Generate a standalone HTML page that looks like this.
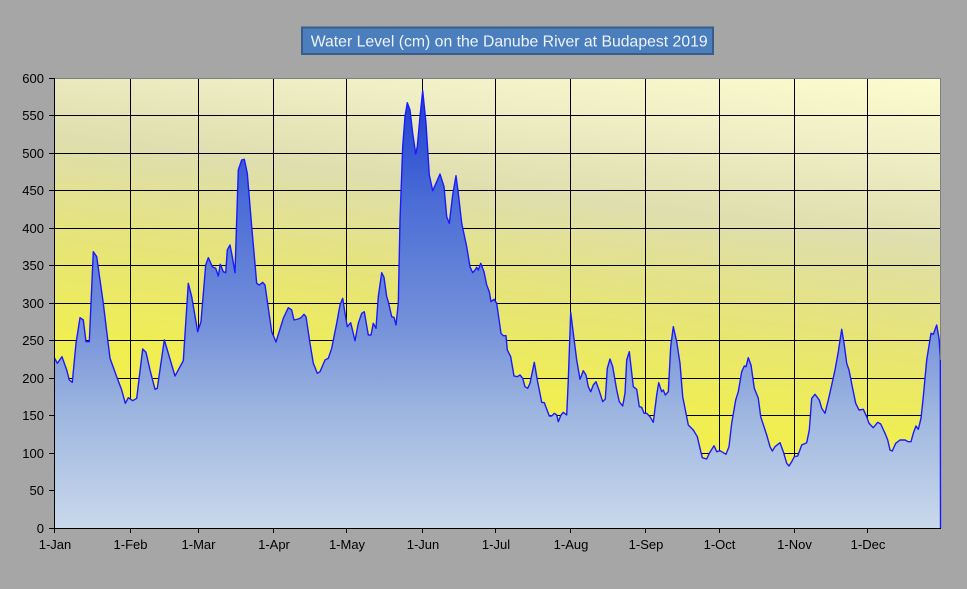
<!DOCTYPE html>
<html>
<head>
<meta charset="utf-8">
<style>
html,body{margin:0;padding:0;background:#a6a6a6;}
svg{display:block;}
text{font-family:"Liberation Sans",Arial,sans-serif;}
</style>
</head>
<body>
<svg width="967" height="589" viewBox="0 0 967 589" xmlns="http://www.w3.org/2000/svg">
<defs>
<linearGradient id="bg" gradientUnits="userSpaceOnUse" x1="760" y1="40" x2="700" y2="540">
<stop offset="0" stop-color="#ffffd2"/>
<stop offset="0.2" stop-color="#eeedc4"/>
<stop offset="0.36" stop-color="#dfdeae"/>
<stop offset="0.55" stop-color="#e6e47a"/>
<stop offset="0.75" stop-color="#f0ee52"/>
<stop offset="1" stop-color="#f4f040"/>
</linearGradient>
<linearGradient id="fill" gradientUnits="userSpaceOnUse" x1="0" y1="90" x2="0" y2="528">
<stop offset="0" stop-color="#1e3ed0"/>
<stop offset="0.25" stop-color="#4a6cd6"/>
<stop offset="0.545" stop-color="#7692da"/>
<stop offset="0.75" stop-color="#a0b8e0"/>
<stop offset="1" stop-color="#c9d9ec"/>
</linearGradient>
</defs>
<rect x="0" y="0" width="967" height="589" fill="#a6a6a6"/>
<rect x="54.5" y="78.5" width="886" height="449.5" fill="url(#bg)"/>
<g stroke="#000" stroke-width="1" fill="none">
<path d="M54 490.5H941M54 453.5H941M54 415.5H941M54 378.5H941M54 340.5H941M54 303.5H941M54 265.5H941M54 228.5H941M54 190.5H941M54 153.5H941M54 115.5H941"/>
<path d="M130.5 78V528M198.5 78V528M273.5 78V528M346.5 78V528M422.5 78V528M495.5 78V528M570.5 78V528M645.5 78V528M719.5 78V528M794.5 78V528M867.5 78V528"/>
</g>
<polygon fill="url(#fill)" stroke="none" points="54.5,528 54.7,358.3 57.3,363.3 62,356.7 66.7,370 69.3,380 72.3,382.3 76,343.3 80,317.7 83.3,320 86,341.7 89.3,341.7 93.3,251.7 96.7,256.7 103.3,303.3 110,358.3 116.7,376.7 121.7,390 125.3,403.3 128.3,397.7 132.7,400.7 136.7,398.3 142.7,349 146,352.3 150,370 155,389.3 157.3,388.3 164.3,340 168.3,353.3 175,376 183.3,360.7 188.3,283.3 191.7,296.7 197.7,331.7 201,321.7 205.7,265 208.3,257.7 212.3,266.7 215.7,268.3 218.3,276 220.3,264.3 223.3,271.7 225.7,272.7 227.3,250 230,245 232.3,256.7 235,272.7 238.3,170 241.7,160 244.3,159.3 247.3,173.3 251.7,226.7 256.7,283.3 259.3,285 262.7,282.3 265,285 271.7,331.7 276,342 283.3,318.3 288.3,307.7 291.7,310 294,320 298.3,319 301,317.7 304,314.3 306,316.7 310,343.3 313.3,363.3 317.3,373.3 320,371.7 325,360 328.3,358.3 331.7,348.3 336.7,323.3 340,305 342.7,298.3 345,313.3 347.3,326.7 350.7,322.7 355,340.7 358.3,323.3 361.7,313.3 364.3,311.7 368.3,335 371,335 373.3,323.3 376,328.3 378.3,296.7 381.7,272.7 384,277.3 386.7,296.7 388.3,301.7 391.7,316.7 394,317.3 396,325 398.3,303.3 400,220 402.7,146.7 405,116.7 407.3,102.7 410,110 412.7,133.3 415.7,154 417.3,146.7 420,116.7 422.7,90.7 426,123.3 429.3,175 432.7,190.7 436.7,181.7 440,174 444,186.7 446.7,216.7 449.3,223.3 452.7,195 456,175.7 458.3,193.3 461.7,223.3 466.7,246.7 470,266.7 472.7,272.7 475,270 476.7,267.3 478.3,270 480.7,263.3 484,271.7 486.7,285 489.3,291.7 491,301.7 494,299.3 496.7,303.3 501,333.3 503.3,335.7 506,335.7 507.3,350 510.7,356.7 514,376 517.3,376.7 520,375 522.7,378.3 525,386.7 527.7,388.3 530,383.3 534.3,362.3 537.3,380 541.7,402.3 544.3,402.7 549.3,416 551.7,416 554.3,413.3 556.7,415 558.3,421.7 561,415 563.3,412.3 566.7,415 568.3,380 570.7,312.3 573.3,333.3 576.7,360 580,379.3 583.3,370.7 586,375 588.3,386.7 590.7,391.7 593.3,385 596,381.7 599,390 602.7,401.7 605.3,399 607.3,368.3 610,359 612.7,366.7 616.7,390 619.3,401.7 622.7,406 625,393.3 626.7,360 629.3,351.7 631,366.7 633.3,386.7 636.7,389.3 639.3,406.7 641.7,407.3 644,413.3 646.7,413.3 650,416.7 653.3,422.3 656.7,395 658.7,382.7 661.7,391.7 663.3,390 665.3,395 668.3,391.7 670.7,346.7 673.3,326.7 676.7,341.7 680,363.3 682.7,396.7 685,408.3 688.3,425 693.3,430 697.3,436.7 700,448.3 702.3,457.7 706.7,459 709.3,453.3 714,445.7 716.7,451.7 720,450.7 722.7,452.3 726,454.3 729,446.7 731.7,423.3 735.7,400 738.3,391.7 741.7,371.7 744.3,366 746,366.7 748.3,357.7 751,365 754.3,388.3 758.3,398.3 760.7,416.7 766.7,435 770,446.7 772.3,451 775,446.7 780,442.7 783.3,451.7 786.7,463.3 789,466 791.7,461.7 794.3,456.7 797.7,456 801.7,445 806.7,442.7 809.3,430 811.7,398.3 815,394.3 819.3,400 821.7,408.3 825,413.3 828.3,400 831.7,385 835,370 838.3,351.7 841.7,329.3 844.3,345 846.7,363.3 849,370 852.3,386.7 855.7,403.3 859,410 863.3,409.3 866.7,416.7 869,423.3 873.3,427.7 877.7,422.3 880.7,424 885,433.3 887.7,440 890,450 892.3,451 895.7,443.3 900,440 905,440 908.3,441.7 911,441.7 913.3,433.3 916,426 918.3,429.3 921,418.3 923.3,396.7 926.7,360 931,333.3 933.3,334.3 936.7,325 939,338.3 940.3,356.7 940.5,528"/>
<polyline fill="none" stroke="#1a1aff" stroke-width="1.4" stroke-linejoin="round" points="54.7,358.3 57.3,363.3 62,356.7 66.7,370 69.3,380 72.3,382.3 76,343.3 80,317.7 83.3,320 86,341.7 89.3,341.7 93.3,251.7 96.7,256.7 103.3,303.3 110,358.3 116.7,376.7 121.7,390 125.3,403.3 128.3,397.7 132.7,400.7 136.7,398.3 142.7,349 146,352.3 150,370 155,389.3 157.3,388.3 164.3,340 168.3,353.3 175,376 183.3,360.7 188.3,283.3 191.7,296.7 197.7,331.7 201,321.7 205.7,265 208.3,257.7 212.3,266.7 215.7,268.3 218.3,276 220.3,264.3 223.3,271.7 225.7,272.7 227.3,250 230,245 232.3,256.7 235,272.7 238.3,170 241.7,160 244.3,159.3 247.3,173.3 251.7,226.7 256.7,283.3 259.3,285 262.7,282.3 265,285 271.7,331.7 276,342 283.3,318.3 288.3,307.7 291.7,310 294,320 298.3,319 301,317.7 304,314.3 306,316.7 310,343.3 313.3,363.3 317.3,373.3 320,371.7 325,360 328.3,358.3 331.7,348.3 336.7,323.3 340,305 342.7,298.3 345,313.3 347.3,326.7 350.7,322.7 355,340.7 358.3,323.3 361.7,313.3 364.3,311.7 368.3,335 371,335 373.3,323.3 376,328.3 378.3,296.7 381.7,272.7 384,277.3 386.7,296.7 388.3,301.7 391.7,316.7 394,317.3 396,325 398.3,303.3 400,220 402.7,146.7 405,116.7 407.3,102.7 410,110 412.7,133.3 415.7,154 417.3,146.7 420,116.7 422.7,90.7 426,123.3 429.3,175 432.7,190.7 436.7,181.7 440,174 444,186.7 446.7,216.7 449.3,223.3 452.7,195 456,175.7 458.3,193.3 461.7,223.3 466.7,246.7 470,266.7 472.7,272.7 475,270 476.7,267.3 478.3,270 480.7,263.3 484,271.7 486.7,285 489.3,291.7 491,301.7 494,299.3 496.7,303.3 501,333.3 503.3,335.7 506,335.7 507.3,350 510.7,356.7 514,376 517.3,376.7 520,375 522.7,378.3 525,386.7 527.7,388.3 530,383.3 534.3,362.3 537.3,380 541.7,402.3 544.3,402.7 549.3,416 551.7,416 554.3,413.3 556.7,415 558.3,421.7 561,415 563.3,412.3 566.7,415 568.3,380 570.7,312.3 573.3,333.3 576.7,360 580,379.3 583.3,370.7 586,375 588.3,386.7 590.7,391.7 593.3,385 596,381.7 599,390 602.7,401.7 605.3,399 607.3,368.3 610,359 612.7,366.7 616.7,390 619.3,401.7 622.7,406 625,393.3 626.7,360 629.3,351.7 631,366.7 633.3,386.7 636.7,389.3 639.3,406.7 641.7,407.3 644,413.3 646.7,413.3 650,416.7 653.3,422.3 656.7,395 658.7,382.7 661.7,391.7 663.3,390 665.3,395 668.3,391.7 670.7,346.7 673.3,326.7 676.7,341.7 680,363.3 682.7,396.7 685,408.3 688.3,425 693.3,430 697.3,436.7 700,448.3 702.3,457.7 706.7,459 709.3,453.3 714,445.7 716.7,451.7 720,450.7 722.7,452.3 726,454.3 729,446.7 731.7,423.3 735.7,400 738.3,391.7 741.7,371.7 744.3,366 746,366.7 748.3,357.7 751,365 754.3,388.3 758.3,398.3 760.7,416.7 766.7,435 770,446.7 772.3,451 775,446.7 780,442.7 783.3,451.7 786.7,463.3 789,466 791.7,461.7 794.3,456.7 797.7,456 801.7,445 806.7,442.7 809.3,430 811.7,398.3 815,394.3 819.3,400 821.7,408.3 825,413.3 828.3,400 831.7,385 835,370 838.3,351.7 841.7,329.3 844.3,345 846.7,363.3 849,370 852.3,386.7 855.7,403.3 859,410 863.3,409.3 866.7,416.7 869,423.3 873.3,427.7 877.7,422.3 880.7,424 885,433.3 887.7,440 890,450 892.3,451 895.7,443.3 900,440 905,440 908.3,441.7 911,441.7 913.3,433.3 916,426 918.3,429.3 921,418.3 923.3,396.7 926.7,360 931,333.3 933.3,334.3 936.7,325 939,338.3 940.3,356.7 940.5,528"/>
<path d="M54.5 78.5H940.5V360" stroke="#808080" stroke-width="1" fill="none"/>
<g stroke="#000" stroke-width="1" fill="none">
<path d="M54.5 78V528.5H941"/>
<path d="M49 528.5H54.5M49 490.5H54.5M49 453.5H54.5M49 415.5H54.5M49 378.5H54.5M49 340.5H54.5M49 303.5H54.5M49 265.5H54.5M49 228.5H54.5M49 190.5H54.5M49 153.5H54.5M49 115.5H54.5M49 78.5H54.5"/>
<path d="M54.5 528V533M130.5 528V533M198.5 528V533M273.5 528V533M346.5 528V533M422.5 528V533M495.5 528V533M570.5 528V533M645.5 528V533M719.5 528V533M794.5 528V533M867.5 528V533"/>
</g>
<g font-size="13" fill="#000" text-anchor="end">
<text x="44" y="533">0</text>
<text x="44" y="495">50</text>
<text x="44" y="458">100</text>
<text x="44" y="420">150</text>
<text x="44" y="383">200</text>
<text x="44" y="345">250</text>
<text x="44" y="308">300</text>
<text x="44" y="270">350</text>
<text x="44" y="233">400</text>
<text x="44" y="195">450</text>
<text x="44" y="158">500</text>
<text x="44" y="120">550</text>
<text x="44" y="83">600</text>
</g>
<g font-size="13" fill="#000" text-anchor="middle">
<text x="55" y="549">1-Jan</text>
<text x="130.5" y="549">1-Feb</text>
<text x="198.5" y="549">1-Mar</text>
<text x="274" y="549">1-Apr</text>
<text x="347" y="549">1-May</text>
<text x="423" y="549">1-Jun</text>
<text x="496" y="549">1-Jul</text>
<text x="571" y="549">1-Aug</text>
<text x="646" y="549">1-Sep</text>
<text x="719.5" y="549">1-Oct</text>
<text x="794.5" y="549">1-Nov</text>
<text x="868" y="549">1-Dec</text>
</g>
<rect x="302" y="27.5" width="411" height="26.5" fill="#4b7ebc" stroke="#385d8a" stroke-width="2"/>
<text x="310.7" y="46.5" font-size="16" fill="#eef3fa" textLength="397" lengthAdjust="spacingAndGlyphs">Water Level (cm) on the Danube  River at Budapest  2019</text>
</svg>
</body>
</html>
